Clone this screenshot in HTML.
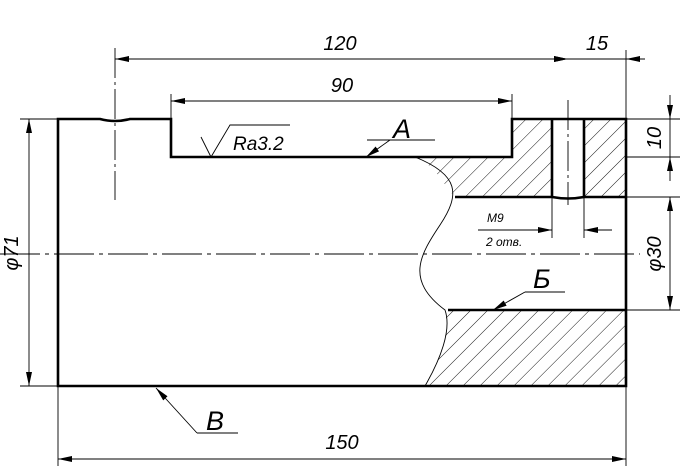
<!DOCTYPE html>
<html><head><meta charset="utf-8"><style>
html,body{margin:0;padding:0;background:#fff;}
svg{display:block}
text{font-family:"Liberation Sans",sans-serif;font-style:italic;fill:#000;}
</style></head><body>
<svg width="686" height="472" viewBox="0 0 686 472" xmlns="http://www.w3.org/2000/svg">
<defs>
<pattern id="h" patternUnits="userSpaceOnUse" width="12" height="12" patternTransform="rotate(45)">
<line x1="0" y1="0" x2="0" y2="12" stroke="#000" stroke-width="0.9"/>
</pattern>
<marker id="a" viewBox="0 0 14 6" refX="14" refY="3" markerWidth="14" markerHeight="6" orient="auto-start-reverse" markerUnits="userSpaceOnUse">
<path d="M0,0 L14,3 L0,6 Z" fill="#000"/>
</marker>
</defs>
<path d="M415,157 L512,157 L512,119 L552,119 L552,197 L455,197 C440,180 435,165 415,157 Z" fill="url(#h)"/>
<rect x="584" y="119" width="42" height="78" fill="url(#h)"/>
<path d="M445,310 L626,310 L626,386 L425,386 C440,360 450,335 445,310 Z" fill="url(#h)"/>
<g stroke="#000" stroke-width="0.9" fill="none">
<path d="M415,157 C460,175 460,195 440,225 C420,255 405,280 445,310 C452,330 440,360 425,386"/>
<line x1="115" y1="48" x2="115" y2="200" stroke-dasharray="30,4,3,4"/>
<line x1="568" y1="100" x2="568" y2="205" stroke-dasharray="30,4,3,4"/>
<line x1="0" y1="254" x2="640" y2="254" stroke-dasharray="40,5,4,5"/>
<line x1="171" y1="94" x2="171" y2="119"/>
<line x1="512" y1="94" x2="512" y2="119"/>
<line x1="626" y1="50" x2="626" y2="119"/>
<line x1="58" y1="386" x2="58" y2="466"/>
<line x1="626" y1="386" x2="626" y2="466"/>
<line x1="20" y1="119" x2="58" y2="119"/>
<line x1="20" y1="386" x2="58" y2="386"/>
<line x1="626" y1="119" x2="680" y2="119"/>
<line x1="626" y1="157" x2="680" y2="157"/>
<line x1="626" y1="197" x2="680" y2="197"/>
<line x1="626" y1="310" x2="680" y2="310"/>
<line x1="552" y1="197" x2="552" y2="238"/>
<line x1="584" y1="197" x2="584" y2="238"/>
<line x1="115" y1="59" x2="568" y2="59" marker-start="url(#a)" marker-end="url(#a)"/>
<line x1="545" y1="59" x2="568" y2="59" marker-end="url(#a)"/>
<line x1="568" y1="59" x2="626" y2="59"/>
<line x1="645" y1="59" x2="626" y2="59" marker-end="url(#a)"/>
<line x1="171" y1="101" x2="512" y2="101" marker-start="url(#a)" marker-end="url(#a)"/>
<line x1="58" y1="459" x2="626" y2="459" marker-start="url(#a)" marker-end="url(#a)"/>
<line x1="29" y1="119" x2="29" y2="386" marker-start="url(#a)" marker-end="url(#a)"/>
<line x1="670" y1="95" x2="670" y2="119" marker-end="url(#a)"/>
<line x1="670" y1="119" x2="670" y2="157"/>
<line x1="670" y1="181" x2="670" y2="157" marker-end="url(#a)"/>
<line x1="670" y1="197" x2="670" y2="310" marker-start="url(#a)" marker-end="url(#a)"/>
<line x1="478" y1="230" x2="552" y2="230" marker-end="url(#a)"/>
<line x1="612" y1="230" x2="584" y2="230" marker-end="url(#a)"/>
<line x1="435" y1="140" x2="367" y2="140"/>
<line x1="390" y1="140" x2="366" y2="157" marker-end="url(#a)"/>
<line x1="565" y1="292" x2="525" y2="292"/>
<line x1="525" y1="292" x2="493" y2="310" marker-end="url(#a)"/>
<line x1="238" y1="433" x2="197" y2="433"/>
<line x1="197" y1="433" x2="156" y2="388" marker-end="url(#a)"/>
<path d="M201,137 L211,157 L230,125 L290,125"/>
</g>
<g stroke="#000" stroke-width="2.6" fill="none" stroke-linejoin="miter">
<path d="M58,386 L58,119 L100,119 Q115,123 130,119 L171,119 L171,157 L512,157 L512,119 L552,119 L584,119 L626,119 L626,386 Z"/>
<line x1="552" y1="119" x2="552" y2="197"/>
<line x1="584" y1="119" x2="584" y2="197"/>
<path d="M455,197 L552,197 Q568,200 584,197 L626,197"/>
<line x1="448" y1="310" x2="626" y2="310"/>
</g>
<text x="340" y="50" font-size="20" text-anchor="middle">120</text>
<text x="597" y="50" font-size="20" text-anchor="middle">15</text>
<text x="342" y="92" font-size="20" text-anchor="middle">90</text>
<text x="342" y="449" font-size="20" text-anchor="middle">150</text>
<text x="233" y="150" font-size="19">Ra3.2</text>
<text x="393" y="138" font-size="27">A</text>
<text x="533" y="288" font-size="27">Б</text>
<text x="206" y="430" font-size="27">B</text>
<text x="487" y="222" font-size="12">M9</text>
<text x="486" y="246" font-size="12">2 отв.</text>
<text transform="translate(18,253) rotate(-90)" font-size="20" text-anchor="middle">φ71</text>
<text transform="translate(661,138) rotate(-90)" font-size="20" text-anchor="middle">10</text>
<text transform="translate(661,254) rotate(-90)" font-size="20" text-anchor="middle">φ30</text>
</svg>
</body></html>
